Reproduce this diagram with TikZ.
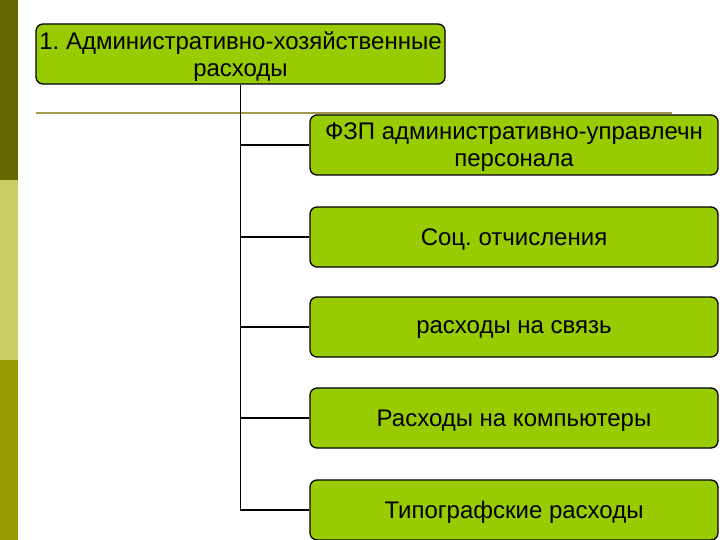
\documentclass[tikz,border=0pt]{standalone}
\usepackage{fontspec}
\setmainfont{Liberation Sans}
\usepackage{tikz}
\usetikzlibrary{positioning,calc}
\definecolor{boxgreen}{HTML}{99CC00}
\definecolor{bardark}{HTML}{666600}
\definecolor{barpale}{HTML}{CCCC66}
\definecolor{barolive}{HTML}{999900}
\definecolor{ruleolive}{HTML}{A09A4A}
\tikzset{
  costbox/.style={draw=black, line width=1.3pt, fill=boxgreen,
    rounded corners=7pt, align=center,
    font=\fontsize{24}{27}\selectfont\frenchspacing,
    minimum height=60pt, inner sep=1pt, text depth=0pt},
  rootbox/.style={costbox, minimum width=409pt},
  itembox/.style={costbox, minimum width=408pt},
  treelink/.style={line width=1.3pt, black},
}

\begin{document}
\begin{tikzpicture}[x=1pt, y=-1pt]
\clip (0,0) rectangle (720,540);
\useasboundingbox (0,0) rectangle (720,540);

%% ── Side bar ─────────────────────────────────────────────────────────────
\fill[bardark]  (0,0)   rectangle (18,180);
\fill[barpale]  (0,180) rectangle (18,360);
\fill[barolive] (0,360) rectangle (18,540);

%% ── Root ─────────────────────────────────────────────────────────────────
\node[rootbox] (root) at (240.5,54) {1. Административно-хозяйственные\\расходы};
\draw[ruleolive, line width=1.6pt] (36,113) -- (672,113);

%% ── Items ────────────────────────────────────────────────────────────────
\node[itembox] (fzp)   at (514,145) {ФЗП административно-управлечн\\персонала};
\node[itembox] (soc)   at (514,237) {Соц. отчисления};
\node[itembox] (link)  at (514,327) {расходы на связь};
\node[itembox] (comp)  at (514,418) {Расходы на компьютеры};
\node[itembox] (print) at (514,510) {Типографские расходы};

\foreach \item in {fzp,soc,link,comp,print}
  \draw[treelink] (root.south) |- (\item.west);

\end{tikzpicture}
\end{document}
